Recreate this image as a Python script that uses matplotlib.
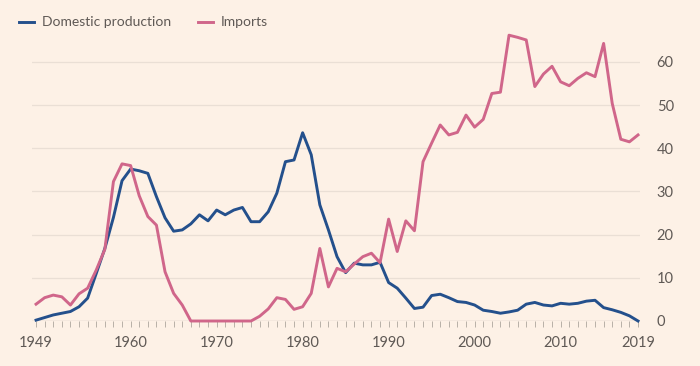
import matplotlib
matplotlib.use("Agg")
import matplotlib.pyplot as plt
import numpy as np

# ── data ─────────────────────────────────────────────
years = list(range(1949, 2020))

domestic = [0.2, 0.8, 1.4, 1.8, 2.2, 3.3, 5.3, 11.0, 16.8, 24.0, 32.5, 35.2,
            34.8, 34.2, 28.8, 23.9, 20.8, 21.1, 22.5, 24.6, 23.2, 25.7,
            24.6, 25.7, 26.3, 23.0, 23.0, 25.3, 29.6, 36.9, 37.3, 43.6,
            38.5, 26.9, 21.1, 14.9, 11.2, 13.4, 13.0, 13.0, 13.6, 8.9,
            7.6, 5.3, 2.9, 3.2, 5.9, 6.2, 5.4, 4.5, 4.3, 3.7,
            2.5, 2.2, 1.8, 2.1, 2.5, 3.9, 4.3, 3.7, 3.5, 4.1,
            3.9, 4.1, 4.6, 4.8, 3.1, 2.6, 2.0, 1.2, 0.0]

imports = [3.9, 5.4, 6.0, 5.6, 3.7, 6.3, 7.6, 11.8, 16.6, 32.3, 36.4, 36.0,
           29.0, 24.2, 22.2, 11.4, 6.4, 3.7, 0.0, 0.0, 0.0, 0.0,
           0.0, 0.0, 0.0, 0.0, 1.1, 2.8, 5.4, 5.0, 2.7, 3.3,
           6.4, 16.8, 7.9, 12.2, 11.4, 13.2, 14.9, 15.7, 13.5, 23.6,
           16.1, 23.2, 20.9, 36.9, 41.2, 45.4, 43.1, 43.7, 47.7, 44.9,
           46.7, 52.7, 53.0, 66.2, 65.7, 65.1, 54.3, 57.2, 59.0, 55.4,
           54.5, 56.2, 57.5, 56.6, 64.3, 50.4, 42.1, 41.5, 43.1]

xtick_years = [1949, 1960, 1970, 1980, 1990, 2000, 2010, 2019]
ytick_vals = [0, 10, 20, 30, 40, 50, 60]

# ── colours ──────────────────────────────────────────
BG = "#FDF1E6"
C_DOM = "#24508c"
C_IMP = "#d0668a"
GRID = "#EADFD5"
TEXT = "#5F5955"

plt.rcParams["font.family"] = ["Lato", "DejaVu Sans"]

fig = plt.figure(figsize=(7, 3.66), dpi=100, facecolor=BG)
ax = fig.add_axes([32 / 700, 45 / 366, 608 / 700, 294 / 366], facecolor=BG)

ax.plot(years, domestic, color=C_DOM, lw=2.1, label="Domestic production",
        solid_joinstyle="round", clip_on=False, zorder=3)
ax.plot(years, imports, color=C_IMP, lw=2.1, label="Imports",
        solid_joinstyle="round", clip_on=False, zorder=3)

ax.set_xlim(1948.53, 2019.23)
ax.set_ylim(0, 68.1)

# grid / axis
for v in ytick_vals[1:]:
    ax.axhline(v, color=GRID, lw=0.9, zorder=1)
ax.axhline(0, color="#B8B0A8", lw=0.9, zorder=2)

for s in ax.spines.values():
    s.set_visible(False)

ax.yaxis.tick_right()
ax.set_yticks(ytick_vals)
ax.tick_params(axis="y", length=0, pad=12, labelsize=10.5, labelcolor=TEXT)

ax.set_xticks(xtick_years)
ax.set_xticks(years, minor=True)
ax.tick_params(axis="x", which="both", length=4, width=0.7, color="#B8B0A8",
               pad=7, labelsize=10.5, labelcolor=TEXT)

fig.legend(loc="upper left", bbox_to_anchor=(6 / 700, 1 - 4 / 366), ncol=2,
           frameon=False, fontsize=10, handlelength=1.1, handletextpad=0.6,
           columnspacing=1.9, labelcolor=TEXT)

fig.savefig("out.png", dpi=100, facecolor=BG)
